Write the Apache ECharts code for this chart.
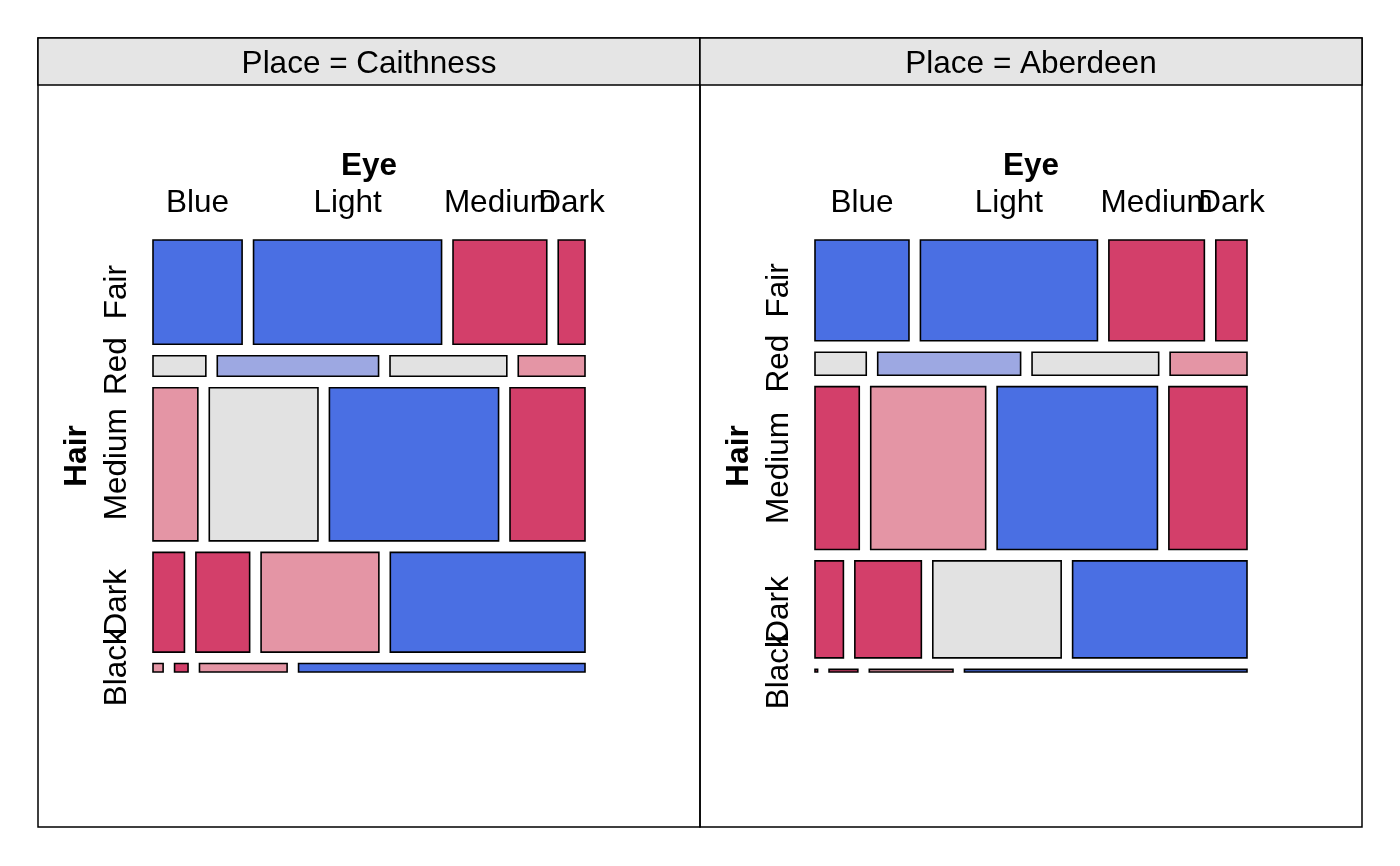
<!DOCTYPE html>
<html>
<head>
<meta charset="utf-8">
<script src="https://cdn.jsdelivr.net/npm/echarts@6/dist/echarts.min.js"></script>
<style>
html,body{margin:0;padding:0;background:#fff;}
#chart{width:1400px;height:866px;}
</style>
</head>
<body>
<div id="chart"></div>
<script>
// ---- data ----
const places = ['Caithness', 'Aberdeen'];
const hairLevels = ['Fair', 'Red', 'Medium', 'Dark', 'Black'];
const eyeLevels = ['Blue', 'Light', 'Medium', 'Dark'];
// counts[hair][eye]  (eye order: Blue, Light, Medium, Dark)
const caithness = [
  [326, 688, 343, 98],
  [38, 116, 84, 48],
  [241, 584, 909, 403],
  [110, 188, 412, 681],
  [3, 4, 26, 85]
];
const aberdeen = [
  [1368, 2577, 1390, 454],
  [170, 474, 420, 255],
  [1041, 2703, 3770, 1837],
  [398, 932, 1799, 2444],
  [1, 11, 32, 108]
];
const tables = [caithness, aberdeen];

// ---- styles ----
const SPACING = 0.0265;        // gap between tiles, fraction of the square
const FONT = "'Liberation Sans', Arial, Helvetica, sans-serif";
const FS = 31.5;
function shade(r) {
  if (r > 4) return '#4A6FE3';
  if (r > 2) return '#9DA8E2';
  if (r < -4) return '#D33F6A';
  if (r < -2) return '#E495A5';
  return '#E2E2E2';
}

// ---- mosaic layout from counts (Hair split vertically, Eye within rows) ----
function buildMosaic(tab) {
  const nH = tab.length, nE = tab[0].length;
  const rowTot = tab.map(r => r.reduce((a, b) => a + b, 0));
  const colTot = eyeLevels.map((_, j) => tab.reduce((a, r) => a + r[j], 0));
  const N = rowTot.reduce((a, b) => a + b, 0);
  const netH = 1 - (nH - 1) * SPACING;
  const netW = 1 - (nE - 1) * SPACING;
  const out = [];
  let yCum = 0;
  for (let i = 0; i < nH; i++) {
    const y0 = yCum * netH + i * SPACING;
    const y1 = y0 + rowTot[i] / N * netH;
    let xCum = 0;
    for (let j = 0; j < nE; j++) {
      const x0 = xCum * netW + j * SPACING;
      const w = tab[i][j] / rowTot[i];
      const x1 = x0 + w * netW;
      const e = rowTot[i] * colTot[j] / N;
      const res = (tab[i][j] - e) / Math.sqrt(e);
      out.push([x0, x1, y0, y1, res, i, j]);
      xCum += w;
    }
    yCum += rowTot[i] / N;
  }
  return out;
}

function renderItem(params, api) {
  const x0 = api.value(0), x1 = api.value(1), y0 = api.value(2), y1 = api.value(3);
  const res = api.value(4), hi = api.value(5), ej = api.value(6);
  const p0 = api.coord([x0, y0]);
  const p1 = api.coord([x1, y1]);
  const children = [{
    type: 'rect',
    shape: { x: p0[0], y: p0[1], width: p1[0] - p0[0], height: p1[1] - p0[1] },
    style: { fill: shade(res), stroke: '#000', lineWidth: 1.6 }
  }];
  if (hi === 0) {
    children.push({
      type: 'text',
      x: (p0[0] + p1[0]) / 2, y: p0[1] - 37,
      style: { text: eyeLevels[ej], fontSize: FS, fontFamily: FONT, fill: '#000', align: 'center', verticalAlign: 'middle' }
    });
  }
  if (ej === 0) {
    children.push({
      type: 'text',
      x: p0[0] - 36, y: (p0[1] + p1[1]) / 2,
      rotation: Math.PI / 2,
      style: { text: hairLevels[hi], fontSize: FS, fontFamily: FONT, fill: '#000', align: 'center', verticalAlign: 'middle' }
    });
  }
  return { type: 'group', children };
}

// ---- layout ----
const panelLeft = [38, 700], panelW = 662, panelTop = 38, panelBottom = 827, stripH = 47;
const mosaicSize = 432, mosaicTop = 240;

const grids = [], xAxes = [], yAxes = [], series = [], graphics = [];
places.forEach((p, k) => {
  const cx = panelLeft[k] + panelW / 2;
  grids.push({ left: cx - mosaicSize / 2, top: mosaicTop, width: mosaicSize, height: mosaicSize });
  xAxes.push({ gridIndex: k, type: 'value', min: 0, max: 1, show: false });
  yAxes.push({ gridIndex: k, type: 'value', min: 0, max: 1, inverse: true, show: false });
  series.push({
    type: 'custom', xAxisIndex: k, yAxisIndex: k,
    renderItem, data: buildMosaic(tables[k]), clip: false, silent: true
  });
  graphics.push(
    { type: 'rect', shape: { x: panelLeft[k], y: panelTop, width: panelW, height: panelBottom - panelTop },
      style: { fill: 'none', stroke: '#000', lineWidth: 1.5 } },
    { type: 'rect', shape: { x: panelLeft[k], y: panelTop, width: panelW, height: stripH },
      style: { fill: '#E5E5E5', stroke: '#000', lineWidth: 1.5 } },
    { type: 'text', x: cx, y: panelTop + stripH / 2 + 2.5,
      style: { text: 'Place = ' + p, fontSize: FS, fontFamily: FONT, fill: '#000', align: 'center', verticalAlign: 'middle' } },
    { type: 'text', x: cx, y: 166,
      style: { text: 'Eye', fontSize: FS, fontWeight: 'bold', fontFamily: FONT, fill: '#000', align: 'center', verticalAlign: 'middle' } },
    { type: 'text', x: cx - mosaicSize / 2 - 76, y: mosaicTop + mosaicSize / 2,
      rotation: Math.PI / 2,
      style: { text: 'Hair', fontSize: FS, fontWeight: 'bold', fontFamily: FONT, fill: '#000', align: 'center', verticalAlign: 'middle' } }
  );
});

const chart = echarts.init(document.getElementById('chart'), null, { renderer: 'canvas' });
chart.setOption({
  backgroundColor: '#fff',
  animation: false,
  grid: grids,
  xAxis: xAxes,
  yAxis: yAxes,
  series,
  graphic: { elements: graphics }
});
</script>
</body>
</html>
